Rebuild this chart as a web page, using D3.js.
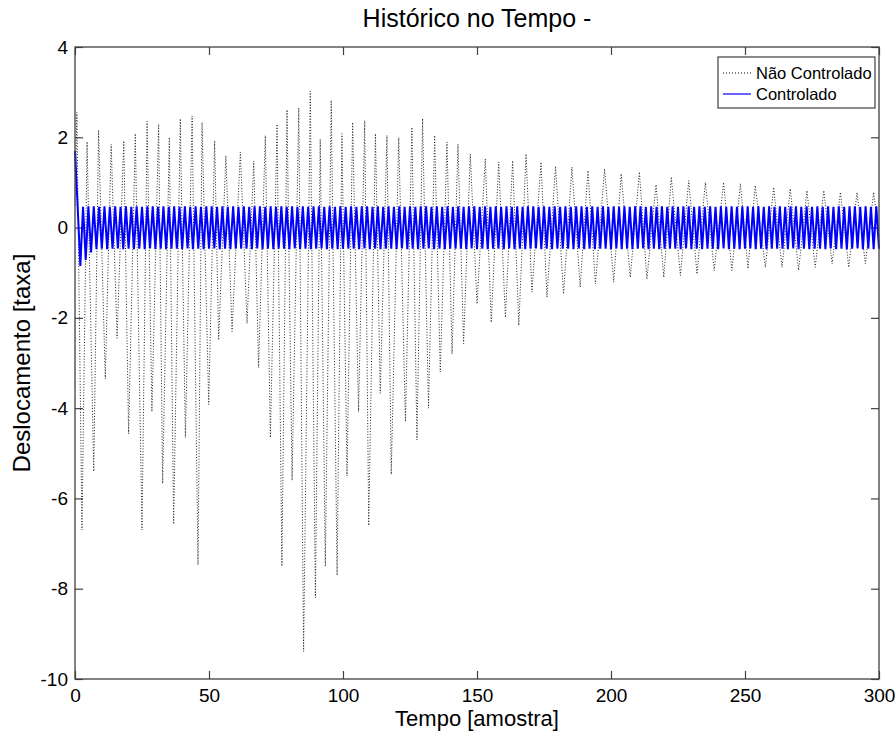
<!DOCTYPE html>
<html>
<head>
<meta charset="utf-8">
<style type="text/css">
body { margin: 0; background: #fff; }
text { font-family: "Liberation Sans", Arial, sans-serif; fill: #000; }
.frame { fill: none; stroke: #404040; stroke-width: 1.3; }
.tick line { stroke: #404040; stroke-width: 1.2; }
.domain { display: none; }
#naoctrl { fill: none; stroke: #222; stroke-width: 1; stroke-dasharray: 1,1.8; }
#ctrl { fill: none; stroke: #0000ff; stroke-width: 2; }
</style>
<script src="https://d3js.org/d3.v7.min.js"></script>
</head>
<body>
<script type="text/javascript">
var width  = 895;
var height = 733;

var xTicks = [0, 50, 100, 150, 200, 250, 300];
var yTicks = [-10, -8, -6, -4, -2, 0, 2, 4];

// Nao Controlado: extremos (pico / vale)
var naoT = [0, 0.7, 2.6, 4.5, 7.0, 8.8, 11.3, 13.5, 15.7, 18.2, 20.0, 22.5, 25.0, 26.9, 28.7,
	31.2, 32.7, 35.2, 36.8, 39.3, 41.2, 43.7, 45.9, 47.4, 49.9, 52.1, 53.6, 56.3, 58.6,
	61.7, 64.2, 66.7, 68.5, 71.0, 72.9, 75.4, 77.2, 79.1, 81.0, 83.5, 85.3, 87.8, 89.7,
	91.5, 93.4, 95.6, 97.8, 99.6, 101.5, 103.6, 105.8, 108.1, 109.6, 112.1, 113.9, 116.4, 118.0,
	120.8, 123.3, 125.7, 127.6, 129.7, 131.9, 134.2, 136.3, 138.8, 140.7, 142.9, 145.0, 147.5, 150.0,
	153.1, 155.3, 158.1, 160.6, 163.3, 165.6, 168.3, 170.5, 173.9, 176.1, 179.3, 182.3, 185.4, 188.5,
	191.4, 194.2, 197.6, 201.0, 203.8, 207.2, 210.6, 213.4, 216.8, 219.7, 222.5, 225.9, 229.0, 232.1,
	235.2, 238.5, 242.0, 245.1, 248.3, 251.1, 253.8, 257.6, 260.7, 263.8, 266.9, 270.0, 273.1, 276.2,
	279.4, 282.5, 285.6, 288.7, 291.8, 294.9, 298.0, 300];
var naoV = [0.5, 2.55, -6.7, 1.9, -5.4, 2.16, -3.35, 1.84, -2.45, 1.92, -4.57, 2.08, -6.7, 2.35, -4.08,
	2.29, -5.67, 2.0, -6.57, 2.41, -4.65, 2.47, -7.47, 2.33, -3.92, 1.92, -2.49, 1.59, -2.3,
	1.67, -2.12, 1.47, -3.1, 2.04, -4.65, 2.29, -7.5, 2.61, -5.6, 2.65, -9.39, 3.02, -8.2,
	1.96, -7.5, 2.82, -7.7, 2.08, -5.5, 2.33, -4.08, 2.37, -6.6, 2.08, -3.67, 2.04, -5.47,
	2.0, -4.3, 2.22, -4.7, 2.41, -4.0, 2.04, -3.2, 1.89, -2.8, 1.85, -2.57, 1.63, -1.69,
	1.52, -2.1, 1.45, -1.99, 1.48, -2.17, 1.63, -1.43, 1.45, -1.54, 1.36, -1.47, 1.34, -1.32,
	1.26, -1.25, 1.30, -1.21, 1.19, -1.10, 1.23, -1.14, 0.95, -1.10, 1.12, -1.06, 1.04, -1.03,
	1.00, -0.95, 1.00, -0.95, 0.97, -0.91, 0.93, -0.88, 0.89, -0.88, 0.86, -0.95, 0.82, -0.88,
	0.82, -0.80, 0.78, -0.88, 0.78, -0.80, 0.78, -0.2];

// Controlado: um valor por amostra, t = 0..300
var ctrlV = [1.70, 0.45, -0.85,
	0.46,-0.72,0.47,-0.55,0.47,-0.48,0.46,-0.47,0.47,-0.48,0.46,-0.47,0.47,-0.46,0.46,-0.48,0.47,-0.47,0.46,-0.48,
	0.47,-0.47,0.46,-0.48,0.47,-0.46,0.47,-0.48,0.46,-0.47,0.47,-0.48,0.46,-0.47,0.47,-0.47,0.46,-0.48,0.47,-0.46,
	0.46,-0.48,0.47,-0.47,0.46,-0.48,0.47,-0.47,0.47,-0.46,0.46,-0.48,0.47,-0.47,0.46,-0.48,0.47,-0.47,0.46,-0.47,
	0.47,-0.47,0.46,-0.48,0.47,-0.46,0.47,-0.48,0.46,-0.47,0.47,-0.48,0.46,-0.47,0.47,-0.47,0.46,-0.48,0.47,-0.46,
	0.46,-0.48,0.47,-0.47,0.46,-0.48,0.47,-0.47,0.47,-0.46,0.46,-0.48,0.47,-0.47,0.46,-0.48,0.47,-0.47,0.46,-0.47,
	0.47,-0.47,0.46,-0.48,0.47,-0.46,0.47,-0.48,0.46,-0.47,0.47,-0.48,0.46,-0.47,0.47,-0.47,0.46,-0.48,0.47,-0.46,
	0.46,-0.48,0.47,-0.47,0.46,-0.48,0.47,-0.47,0.47,-0.46,0.46,-0.48,0.47,-0.47,0.46,-0.48,0.47,-0.47,0.46,-0.47,
	0.47,-0.47,0.46,-0.48,0.47,-0.46,0.47,-0.48,0.46,-0.47,0.47,-0.48,0.46,-0.47,0.47,-0.47,0.46,-0.48,0.47,-0.46,
	0.46,-0.48,0.47,-0.47,0.46,-0.48,0.47,-0.47,0.47,-0.46,0.46,-0.48,0.47,-0.47,0.46,-0.48,0.47,-0.47,0.46,-0.47,
	0.47,-0.47,0.46,-0.48,0.47,-0.46,0.47,-0.48,0.46,-0.47,0.47,-0.48,0.46,-0.47,0.47,-0.47,0.46,-0.48,0.47,-0.46,
	0.46,-0.48,0.47,-0.47,0.46,-0.48,0.47,-0.47,0.47,-0.46,0.46,-0.48,0.47,-0.47,0.46,-0.48,0.47,-0.47,0.46,-0.47,
	0.47,-0.47,0.46,-0.48,0.47,-0.46,0.47,-0.48,0.46,-0.47,0.47,-0.48,0.46,-0.47,0.47,-0.47,0.46,-0.48,0.47,-0.46,
	0.46,-0.48,0.47,-0.47,0.46,-0.48,0.47,-0.47,0.47,-0.46,0.46,-0.48,0.47,-0.47,0.46,-0.48,0.47,-0.47,0.46,-0.47,
	0.47,-0.47,0.46,-0.48,0.47,-0.46,0.47,-0.48,0.46,-0.47,0.47,-0.48,0.46,-0.47,0.47,-0.47,0.46,-0.48,0.47,-0.46,
	0.46,-0.48,0.47,-0.47,0.46,-0.48,0.47,-0.47,0.47,-0.46,0.46,-0.48,0.47,-0.47,0.46,-0.48,0.47,-0.47];

var legendNames = ["Não Controlado", "Controlado"];

var pLeft = 75, pRight = 879, pTop = 47, pBottom = 679;

var x = d3.scaleLinear().domain([0, 300]).range([pLeft, pRight]);
var y = d3.scaleLinear().domain([-10, 4]).range([pBottom, pTop]);

var svg = d3.select("body").append("svg").attr("width", width).attr("height", height);
svg.append("rect").attr("width", width).attr("height", height).attr("fill", "#fff");

var fmt = function(d) { return String(d); };

svg.append("g").attr("transform", "translate(0," + pBottom + ")")
	.call(d3.axisBottom(x).tickValues(xTicks).tickSizeInner(-8).tickSizeOuter(0).tickPadding(10).tickFormat(fmt))
	.selectAll("text").style("font-size", "19px").style("font-family", "Liberation Sans, Arial, sans-serif");
svg.append("g").attr("transform", "translate(0," + pTop + ")")
	.call(d3.axisTop(x).tickValues(xTicks).tickSizeInner(-8).tickSizeOuter(0).tickFormat(""));
svg.append("g").attr("transform", "translate(" + pLeft + ",0)")
	.call(d3.axisLeft(y).tickValues(yTicks).tickSizeInner(-8).tickSizeOuter(0).tickPadding(7).tickFormat(fmt))
	.selectAll("text").style("font-size", "19px").style("font-family", "Liberation Sans, Arial, sans-serif");
svg.append("g").attr("transform", "translate(" + pRight + ",0)")
	.call(d3.axisRight(y).tickValues(yTicks).tickSizeInner(-8).tickSizeOuter(0).tickFormat(""));

var lineNao = d3.line().x(function(d) { return x(d[0]); }).y(function(d) { return y(d[1]); });
var lineCtrl = d3.line().x(function(d, i) { return x(i); }).y(function(d) { return y(d); });

svg.append("path").datum(d3.zip(naoT, naoV)).attr("id", "naoctrl").attr("d", lineNao);
svg.append("path").datum(ctrlV).attr("id", "ctrl").attr("d", lineCtrl);

svg.append("rect").attr("class", "frame")
	.attr("x", pLeft).attr("y", pTop).attr("width", pRight - pLeft).attr("height", pBottom - pTop);

// titulo e rotulos
svg.append("text").attr("x", (pLeft + pRight) / 2).attr("y", 27).attr("text-anchor", "middle")
	.style("font-size", "25px").text("Histórico no Tempo -");
svg.append("text").attr("x", (pLeft + pRight) / 2).attr("y", 726).attr("text-anchor", "middle")
	.style("font-size", "22px").text("Tempo [amostra]");
svg.append("text").attr("transform", "translate(30," + ((pTop + pBottom) / 2) + ") rotate(-90)")
	.attr("text-anchor", "middle").style("font-size", "24px").text("Deslocamento [taxa]");

// legenda
var lg = svg.append("g");
lg.append("rect").attr("x", 718).attr("y", 57).attr("width", 157).attr("height", 51)
	.attr("fill", "#fff").attr("stroke", "#404040").attr("stroke-width", 1.2);
lg.append("line").attr("x1", 723).attr("x2", 751).attr("y1", 73).attr("y2", 73)
	.attr("stroke", "#000").attr("stroke-dasharray", "1,2");
lg.append("line").attr("x1", 723).attr("x2", 751).attr("y1", 94).attr("y2", 94)
	.attr("stroke", "#0000ff").attr("stroke-width", 1.2);
lg.append("text").attr("x", 756).attr("y", 79).style("font-size", "16.5px").text(legendNames[0]);
lg.append("text").attr("x", 756).attr("y", 100).style("font-size", "16.5px").text(legendNames[1]);
</script>
</body>
</html>
